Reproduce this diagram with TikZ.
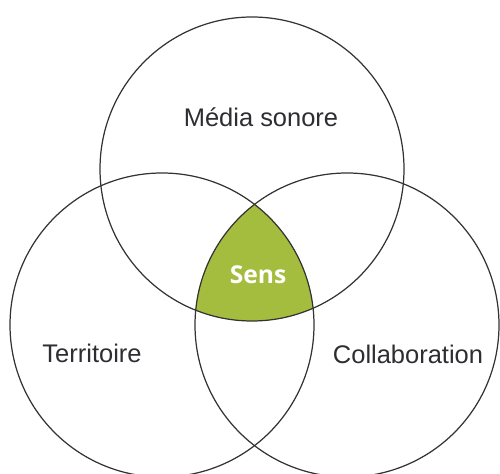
\documentclass[tikz,border=0pt]{standalone}
\usepackage{fontspec}
\setmainfont{Liberation Sans}
\newfontfamily\sensfont{Open Sans}
\definecolor{sensgreen}{RGB}{165,189,62}
\definecolor{textgray}{RGB}{45,45,50}

\begin{document}
\begin{tikzpicture}[x=0.02cm, y=0.02cm,
    ensemble/.style={draw=black!80, line width=0.7pt},
    etiquette/.style={text=textgray, font=\fontsize{14.5}{17}\selectfont}]

    \useasboundingbox (0,0) rectangle (500,473);

    % Rayon commun et centres des trois cercles
    \def\R{152}
    \coordinate (cMedia) at (252,304);
    \coordinate (cTerr)  at (162,148);
    \coordinate (cColl)  at (347,148);

    % Zone commune (Sens) - intersection des trois disques
    \begin{scope}
        \clip (cMedia) circle (\R);
        \clip (cTerr) circle (\R);
        \fill[sensgreen] (cColl) circle (\R);
    \end{scope}

    % Cercles
    \draw[ensemble] (cMedia) circle (\R);
    \draw[ensemble] (cTerr) circle (\R);
    \draw[ensemble] (cColl) circle (\R);

    % Etiquettes
    \node[etiquette] (media) at (261,356) {Média sonore};
    \node[etiquette] (terr) at (92,120) {Territoire};
    \node[etiquette] (coll) at (408,119) {Collaboration};
    \node[text=white, font=\sensfont\bfseries\fontsize{14}{17}\selectfont] (sens) at (258,198) {Sens};

\end{tikzpicture}
\end{document}
